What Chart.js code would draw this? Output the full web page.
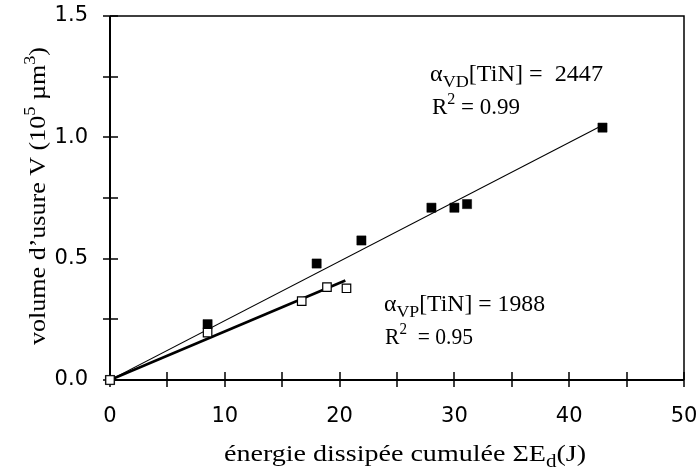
<!DOCTYPE html>
<html><head><meta charset="utf-8">
<script src="https://cdn.jsdelivr.net/npm/chart.js@4"></script>
<style>html,body{margin:0;padding:0;background:#fff}#wrap{width:699px;height:472px}</style>
</head><body><div id="wrap"><canvas id="c" width="699" height="472"></canvas></div>
<script>
// ---- data ----
const energyVD = [0, 8.5, 18.0, 21.9, 28.0, 30.0, 31.1, 42.9];
const volumeVD = [0, 0.23, 0.48, 0.575, 0.71, 0.71, 0.725, 1.04];
const energyVP = [0, 8.5, 16.7, 18.9, 20.6];
const volumeVP = [0, 0.195, 0.325, 0.383, 0.378];
const fitVDx = [0, 42.9];
const fitVDy = [0, 1.05];
const fitVPx = [0, 20.5];
const fitVPy = [0, 0.41];
const xTickLabels = [0, 10, 20, 30, 40, 50];
const yTickLabels = [0.0, 0.5, 1.0, 1.5];

const pts = (xs, ys) => xs.map((x, i) => ({x: x, y: ys[i]}));
const SERIF = '"Liberation Serif", "Times New Roman", serif';

// draw rich text (parts: {t, s: size factor, dy}) fitted horizontally to a target width
function richText(ctx, parts, x, y, size, targetW, align) {
  ctx.save();
  let total = 0;
  parts.forEach(p => {
    ctx.font = (size * (p.s || 1)) + 'px ' + SERIF;
    p.w = ctx.measureText(p.t).width;
    total += p.w;
  });
  const sx = targetW ? targetW / total : 1;
  ctx.translate(x, y);
  ctx.scale(sx, 1);
  let cx = align === 'center' ? -total / 2 : 0;
  ctx.fillStyle = '#000';
  ctx.textBaseline = 'alphabetic';
  ctx.textAlign = 'left';
  parts.forEach(p => {
    ctx.font = (size * (p.s || 1)) + 'px ' + SERIF;
    ctx.fillText(p.t, cx, p.dy || 0);
    cx += p.w;
  });
  ctx.restore();
}

const framePlugin = {
  id: 'frame',
  beforeDatasetsDraw(chart) {
    const ctx = chart.ctx, a = chart.chartArea;
    const xs = chart.scales.x, ys = chart.scales.y;
    ctx.save();
    ctx.strokeStyle = '#000';
    ctx.lineCap = 'butt';
    ctx.lineWidth = 1.5;
    ctx.beginPath();
    ctx.moveTo(a.left, a.top); ctx.lineTo(a.right, a.top); ctx.lineTo(a.right, a.bottom);
    ctx.stroke();
    ctx.lineWidth = 2;
    ctx.beginPath();
    ctx.moveTo(a.left, a.top); ctx.lineTo(a.left, a.bottom); ctx.lineTo(a.right, a.bottom);
    ctx.stroke();
    ctx.lineWidth = 1.5;
    ctx.beginPath();
    xs.ticks.forEach(t => {
      const px = Math.round(xs.getPixelForValue(t.value));
      ctx.moveTo(px, a.bottom - 8); ctx.lineTo(px, a.bottom + 7);
    });
    ys.ticks.forEach(t => {
      const py = Math.round(ys.getPixelForValue(t.value));
      ctx.moveTo(a.left - 7, py); ctx.lineTo(a.left + 8, py);
    });
    ctx.stroke();
    ctx.restore();
  },
  afterDraw(chart) {
    const ctx = chart.ctx;
    richText(ctx, [{t: 'α'}, {t: 'VD', s: 0.75, dy: 6}, {t: '[TiN] =  2447'}], 430, 81, 23, 173);
    richText(ctx, [{t: 'R'}, {t: '2', s: 0.7, dy: -10}, {t: ' = 0.99'}], 432, 114, 23, 88);
    richText(ctx, [{t: 'α'}, {t: 'VP', s: 0.75, dy: 6}, {t: '[TiN] = 1988'}], 384, 311, 23, 161);
    richText(ctx, [{t: 'R'}, {t: '2', s: 0.7, dy: -10}, {t: '  = 0.95'}], 385, 344, 23, 88);
    richText(ctx, [{t: 'énergie dissipée cumulée ΣE'}, {t: 'd', s: 0.75, dy: 6}, {t: '(J)'}], 405, 461, 24, 362, 'center');
    ctx.save();
    ctx.translate(45, 196);
    ctx.rotate(-Math.PI / 2);
    richText(ctx, [{t: 'volume d’usure V (10'}, {t: '5', s: 0.7, dy: -10}, {t: ' µm'}, {t: '3', s: 0.7, dy: -10}, {t: ')'}], 0, 0, 23, 298, 'center');
    ctx.restore();
  }
};

new Chart(document.getElementById('c'), {
  type: 'scatter',
  data: {
    datasets: [
      {label: 'VP', data: pts(energyVP, volumeVP), pointStyle: 'rect', pointRadius: 6,
       backgroundColor: '#fff', borderColor: '#000', borderWidth: 1.2, showLine: false, clip: false},
      {label: 'VD', data: pts(energyVD, volumeVD), pointStyle: 'rect', pointRadius: 6.5,
       backgroundColor: '#000', borderColor: '#000', borderWidth: 0.5, showLine: false, clip: false},
      {label: 'fit VP', data: pts(fitVPx, fitVPy), showLine: true, pointRadius: 0,
       borderColor: '#000', borderWidth: 2.6, fill: false},
      {label: 'fit VD', data: pts(fitVDx, fitVDy), showLine: true, pointRadius: 0,
       borderColor: '#000', borderWidth: 1.1, fill: false}
    ]
  },
  options: {
    responsive: false,
    animation: false,
    events: [],
    layout: {padding: {left: 0, top: 16, right: 15, bottom: 0}},
    plugins: {legend: {display: false}, tooltip: {enabled: false}},
    scales: {
      x: {
        type: 'linear', min: 0, max: 50,
        border: {display: false},
        grid: {display: false, drawTicks: false},
        ticks: {
          stepSize: 5, autoSkip: false, maxRotation: 0, padding: 24, color: '#000',
          font: {family: '"DejaVu Sans", sans-serif', size: 21},
          callback: v => xTickLabels.includes(v) ? String(v) : ''
        },
        afterFit: s => { s.height = 92; s.paddingLeft = 0; s.paddingRight = 0; }
      },
      y: {
        type: 'linear', min: 0, max: 1.5,
        border: {display: false},
        grid: {display: false, drawTicks: false},
        ticks: {
          stepSize: 0.25, autoSkip: false, padding: 22, color: '#000',
          font: {family: '"DejaVu Sans", sans-serif', size: 21},
          callback: v => yTickLabels.some(t => Math.abs(t - v) < 1e-9) ? v.toFixed(1) : ''
        },
        afterFit: s => { s.width = 110; s.paddingTop = 0; s.paddingBottom = 0; }
      }
    }
  },
  plugins: [framePlugin]
});
</script>
</body></html>
